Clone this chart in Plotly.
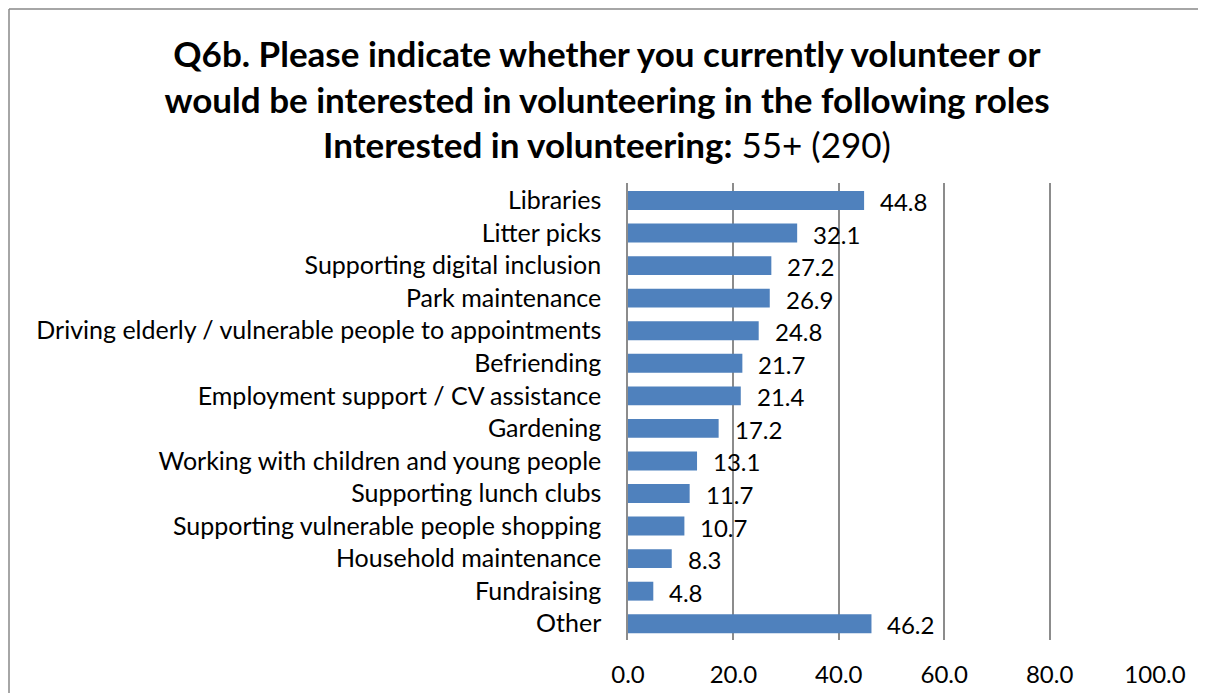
import plotly.graph_objects as go

categories = [
    "Libraries",
    "Litter picks",
    "Supporting digital inclusion",
    "Park maintenance",
    "Driving elderly / vulnerable people to appointments",
    "Befriending",
    "Employment support / CV assistance",
    "Gardening",
    "Working with children and young people",
    "Supporting lunch clubs",
    "Supporting vulnerable people shopping",
    "Household maintenance",
    "Fundraising",
    "Other",
]
values = [44.8, 32.1, 27.2, 26.9, 24.8, 21.7, 21.4, 17.2, 13.1, 11.7, 10.7, 8.3, 4.8, 46.2]
tick_vals = [0, 20, 40, 60, 80, 100]
tick_text = ["0.0", "20.0", "40.0", "60.0", "80.0", "100.0"]

# page shows the figure offset by the default 8px body margin
W, H = 1198, 685
ML, MR, MT, MB = 620, 51, 175, 53
FONT = "Lato, Calibri, sans-serif"

fig = go.Figure()
fig.add_trace(go.Bar(
    x=values, y=categories, orientation="h",
    marker=dict(color="#4F81BD", line=dict(width=0)),
    width=0.58, hoverinfo="x+y",
))

for c, v in zip(categories, values):
    fig.add_annotation(x=v, y=c, text=f"{v:.1f}", showarrow=False,
                       xanchor="left", yanchor="middle", xshift=14, yshift=-1,
                       font=dict(family=FONT, size=24, color="#000000"))

pw = W - ML - MR
ph = H - MT - MB
def px_x(p):
    return (p - ML) / pw
def px_y(p):
    return (H - MB - p) / ph
fig.add_shape(type="line", xref="paper", yref="paper",
              x0=px_x(1), x1=px_x(W + 5), y0=px_y(1), y1=px_y(1),
              line=dict(color="#888888", width=1.5))
fig.add_shape(type="line", xref="paper", yref="paper",
              x0=px_x(1), x1=px_x(1), y0=px_y(1), y1=px_y(H + 5),
              line=dict(color="#888888", width=1.5))

fig.update_layout(
    width=W, height=H,
    margin=dict(l=ML, r=MR, t=MT, b=MB, pad=0),
    paper_bgcolor="white", plot_bgcolor="white",
    showlegend=False,
    font=dict(family=FONT, color="#000000"),
    title=dict(
        text="<b>Q6b. Please indicate whether you currently volunteer or<br>"
             "would be interested in volunteering in the following roles<br>"
             "Interested in volunteering:</b> 55+ (290)",
        x=599 / W, xanchor="center", xref="container",
        y=1 - 59 / H, yanchor="top", yref="container",
        font=dict(family=FONT, size=35, color="#000000"),
    ),
    xaxis=dict(
        range=[0, 100], tickvals=tick_vals, ticktext=tick_text,
        showgrid=True, gridcolor="#8C8C8C", gridwidth=1.5,
        zeroline=False, showline=False, automargin=False,
        ticks="outside", ticklen=13, tickcolor="rgba(0,0,0,0)",
        tickfont=dict(family=FONT, size=24, color="#000000"),
    ),
    yaxis=dict(
        autorange="reversed", showgrid=False, zeroline=False,
        showline=True, linecolor="#8C8C8C", linewidth=1.5, automargin=False,
        ticks="", ticklabelstandoff=20,
        tickfont=dict(family=FONT, size=25, color="#000000"),
    ),
    bargap=0.42,
)

fig.write_html("out.html")
